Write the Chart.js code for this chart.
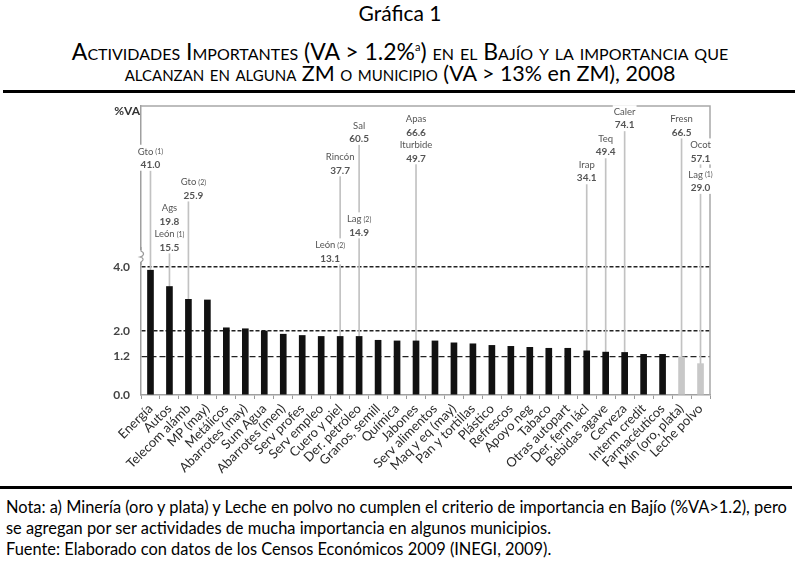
<!DOCTYPE html>
<html>
<head>
<meta charset="utf-8">
<script src="https://cdn.jsdelivr.net/npm/chart.js@4/dist/chart.umd.min.js"></script>
<style>
    body { margin: 0; background: #fff; font-family: Lato, sans-serif; color: #000; }
    #page { position: relative; width: 800px; height: 586px; overflow: hidden; }
    #g1 { position: absolute; top: 0; left: 0; width: 800px; text-align: center; font-size: 21px; }
    .t { position: absolute; left: 0; width: 800px; text-align: center; line-height: 26px; font-variant: small-caps; }
    .t .n { font-variant: normal; }
    .t sup { font-size: 11px; font-variant: normal; }
    .rule { position: absolute; height: 3px; background: #000; }
    #chartBox { position: absolute; left: 0; top: 96px; width: 800px; height: 380px; }
    #notes { position: absolute; left: 6px; top: 496px; font-size: 16.4px; line-height: 21px; white-space: nowrap; }
</style>
</head>
<body>
<div id="page">
    <div id="g1">Gráfica 1</div>
    <div class="t" style="top:34px; font-size:23px">Actividades Importantes (VA &gt; 1.2%<sup>a</sup>) en el Bajío y la importancia que</div>
    <div class="t" style="top:60px; font-size:21.5px">alcanzan en alguna ZM o municipio (VA &gt; 13% <span class="n">en</span> ZM), 2008</div>
    <div class="rule" style="top:90px; left:3px; width:792px"></div>
    <div id="chartBox"><canvas id="chart"></canvas></div>
    <div class="rule" style="top:486px; left:0; width:792px"></div>
    <div id="notes">
        Nota: a) Minería (oro y plata) y Leche en polvo no cumplen el criterio de importancia en Bajío (%VA&gt;1.2), pero<br>
        se agregan por ser actividades de mucha importancia en algunos municipios.<br>
        Fuente: Elaborado con datos de los Censos Económicos 2009 (INEGI, 2009).
    </div>
</div>
<script>
// Activities and their share of value added (%) in the Bajío
const categories = ['Energía', 'Autos', 'Telecom alámb', 'MP (may)', 'Metálicos', 'Abarrotes (may)',
    'Sum Agua', 'Abarrotes (men)', 'Serv profes', 'Serv empleo', 'Cuero y piel', 'Der. petróleo',
    'Granos, semill', 'Química', 'Jabones', 'Serv alimentos', 'Maq y eq (may)', 'Pan y tortillas',
    'Plástico', 'Refrescos', 'Apoyo neg', 'Tabaco', 'Otras autopart', 'Der. ferm lácl',
    'Bebidas agave', 'Cerveza', 'Interm credit', 'Farmacéuticos', 'Min (oro, plata)', 'Leche polvo'];
const vaBajio = [3.90, 3.39, 2.99, 2.97, 2.10, 2.07, 2.00, 1.90, 1.86, 1.83, 1.83, 1.83, 1.71, 1.69,
    1.69, 1.69, 1.63, 1.60, 1.55, 1.52, 1.49, 1.46, 1.46, 1.38, 1.34, 1.33, 1.27, 1.27, 1.19, 0.98];

// Share reached in a metro zone / municipality
const zmActivity = ['Energía', 'Autos', 'Autos', 'Telecom alámb', 'Cuero y piel', 'Cuero y piel',
    'Der. petróleo', 'Der. petróleo', 'Jabones', 'Jabones', 'Der. ferm lácl', 'Bebidas agave',
    'Cerveza', 'Min (oro, plata)', 'Leche polvo', 'Leche polvo'];
const zmPlace = ['Gto (1)', 'Ags', 'León (1)', 'Gto (2)', 'Rincón', 'León (2)', 'Sal', 'Lag (2)',
    'Apas', 'Iturbide', 'Irap', 'Teq', 'Caler', 'Fresn', 'Ocot', 'Lag (1)'];
const zmValue = [41.0, 19.8, 15.5, 25.9, 37.7, 13.1, 60.5, 14.9, 66.6, 49.7, 34.1, 49.4, 74.1, 66.5, 57.1, 29.0];

const yTicks = [0, 1.2, 2.0, 4.0];
const threshold = 1.2;

// Axis with a break: linear 0-4 at the bottom, log 10-max above
const brk = { lowerMax: 4, upperMin: 10, lowerShare: 128 / 289, gapShare: 2 / 289 };

class BrokenScale extends Chart.LinearScale {
    getPixelForValue(value) {
        const h = this.bottom - this.top;
        const yLow = this.bottom - h * brk.lowerShare;
        const yUp = yLow - h * brk.gapShare;
        if (value <= brk.lowerMax) return this.bottom - (value / brk.lowerMax) * (this.bottom - yLow);
        if (value <= brk.upperMin) return yLow - (value - brk.lowerMax) / (brk.upperMin - brk.lowerMax) * (yLow - yUp);
        const t = Math.log10(value / brk.upperMin) / Math.log10(this.max / brk.upperMin);
        return yUp - t * (yUp - this.top);
    }
    getValueForPixel(pixel) {
        const h = this.bottom - this.top;
        const yLow = this.bottom - h * brk.lowerShare;
        const yUp = yLow - h * brk.gapShare;
        if (pixel >= yLow) return (this.bottom - pixel) / (this.bottom - yLow) * brk.lowerMax;
        if (pixel >= yUp) return brk.lowerMax + (yLow - pixel) / (yLow - yUp) * (brk.upperMin - brk.lowerMax);
        const t = (yUp - pixel) / (yUp - this.top);
        return brk.upperMin * Math.pow(this.max / brk.upperMin, t);
    }
}
BrokenScale.id = 'broken';
BrokenScale.defaults = {};
Chart.register(BrokenScale);

// leader line for each activity up to its highest ZM value
const leaderLines = categories.map((c, i) => {
    const vals = zmValue.filter((v, k) => zmActivity[k] === c);
    return vals.length ? [vaBajio[i], Math.max(...vals)] : null;
});

// Draws frame, axis break, %VA and ZM labels
const decorPlugin = {
    id: 'decor',
    nudge: { 'Gto (2)': 5, 'León (2)': -10 },
    afterDatasetsDraw(chart) {
        const { ctx, chartArea: a } = chart;
        const xs = chart.scales.x, ys = chart.scales.y;
        ctx.save();

        // frame top/right
        ctx.strokeStyle = '#a8a8a8';
        ctx.lineWidth = 1.5;
        ctx.beginPath();
        ctx.moveTo(a.left, a.top);
        ctx.lineTo(a.right, a.top);
        ctx.lineTo(a.right, a.bottom);
        ctx.stroke();

        // axis break mark
        const yb = ys.getPixelForValue(brk.lowerMax) - 11;
        ctx.fillStyle = '#fff';
        ctx.fillRect(a.left - 3, yb - 6, 6, 12);
        ctx.strokeStyle = '#999';
        ctx.lineWidth = 1.2;
        ctx.beginPath();
        ctx.moveTo(a.left, yb - 9);
        ctx.lineTo(a.left, yb - 5);
        ctx.bezierCurveTo(a.left + 4, yb - 3, a.left + 3, yb, a.left - 1, yb + 1);
        ctx.bezierCurveTo(a.left + 3, yb + 2, a.left + 3, yb + 4, a.left, yb + 6);
        ctx.lineTo(a.left, yb + 9);
        ctx.stroke();

        // %VA
        ctx.fillStyle = '#333';
        ctx.font = 'bold 12px Lato';
        ctx.textAlign = 'right';
        ctx.textBaseline = 'middle';
        ctx.fillText('%VA', a.left - 1, a.top + 5);

        // ZM labels, placed from highest value down, pushed below any overlap
        const H = 26;
        const order = zmValue.map((v, k) => k).sort((p, q) => zmValue[q] - zmValue[p]);
        const placed = [];
        order.forEach(k => {
            const m = zmPlace[k].match(/^(.*?)\s*(\(\d\))?$/);
            const main = m[1], paren = m[2] || '';
            ctx.font = '9.5px Lato';
            const wMain = ctx.measureText(main).width;
            ctx.font = '7px Lato';
            const wPar = paren ? ctx.measureText(paren).width + 2 : 0;
            ctx.font = 'bold 10px Lato';
            const valTxt = zmValue[k].toFixed(1);
            const wVal = ctx.measureText(valTxt).width;
            const w = Math.max(wMain + wPar, wVal) + 2;
            const x = xs.getPixelForValue(categories.indexOf(zmActivity[k])) + (decorPlugin.nudge[zmPlace[k]] || 0);
            let bottom = ys.getPixelForValue(zmValue[k]);
            let moved = true;
            while (moved) {
                moved = false;
                for (const p of placed) {
                    const hx = x - w / 2 < p.x1 && x + w / 2 > p.x0;
                    const hy = bottom - H < p.bottom && bottom > p.bottom - H;
                    if (hx && hy) { bottom = p.bottom + H; moved = true; }
                }
            }
            placed.push({ x0: x - w / 2, x1: x + w / 2, bottom });

            ctx.fillStyle = '#fff';
            ctx.fillRect(x - w / 2, bottom - H, w, H);
            ctx.fillStyle = '#555';
            ctx.textBaseline = 'middle';
            ctx.textAlign = 'left';
            const x0 = x - (wMain + wPar) / 2;
            ctx.font = '9.5px Lato';
            ctx.fillText(main, x0, bottom - 19);
            if (paren) {
                ctx.font = '7px Lato';
                ctx.fillText(paren, x0 + wMain + 2, bottom - 19);
            }
            ctx.font = 'bold 10px Lato';
            ctx.textAlign = 'center';
            ctx.fillText(valTxt, x, bottom - 6);
        });
        ctx.restore();
    }
};

new Chart(document.getElementById('chart'), {
    type: 'bar',
    data: {
        labels: categories,
        datasets: [{
            label: '%VA Bajío',
            data: vaBajio,
            backgroundColor: vaBajio.map(v => v >= threshold ? '#111' : '#c8c8c8'),
            barThickness: 6,
            grouped: false
        }, {
            label: 'ZM',
            data: leaderLines,
            backgroundColor: '#c2c2c2',
            barThickness: 1,
            grouped: false
        }]
    },
    options: {
        responsive: true,
        maintainAspectRatio: false,
        animation: false,
        layout: { padding: { left: 0, right: 90, top: 10, bottom: 0 } },
        plugins: { legend: { display: false }, tooltip: { enabled: false } },
        scales: {
            x: {
                afterFit: s => { s.height = 81; s.paddingLeft = 0; s.paddingRight = 0; },
                grid: { drawOnChartArea: false, drawTicks: true, tickLength: 4, color: '#999' },
                border: { color: '#a0a0a0', width: 1.5 },
                ticks: {
                    autoSkip: false, minRotation: 45, maxRotation: 45, padding: 2,
                    color: '#2a2a2a', font: { family: 'Lato', size: 13 }
                }
            },
            y: {
                type: 'broken',
                min: 0,
                max: 108,
                afterFit: s => { s.width = 141; s.paddingTop = 0; s.paddingBottom = 0; },
                afterBuildTicks: s => { s.ticks = yTicks.map(v => ({ value: v })); },
                grid: {
                    drawTicks: false,
                    color: c => c.tick && c.tick.value === 0 ? 'rgba(0,0,0,0)' : '#222',
                    lineWidth: c => c.tick && c.tick.value === 1.2 ? 1.2 : 1.6
                },
                border: {
                    color: '#a0a0a0', width: 1.5,
                    dash: c => c.tick && c.tick.value === 1.2 ? [6, 3] : [4, 2]
                },
                ticks: {
                    padding: 11,
                    color: '#444',
                    font: { family: 'Lato', size: 12, weight: 'bold' },
                    callback: v => v.toFixed(1)
                }
            }
        }
    },
    plugins: [decorPlugin]
});
</script>
</body>
</html>
